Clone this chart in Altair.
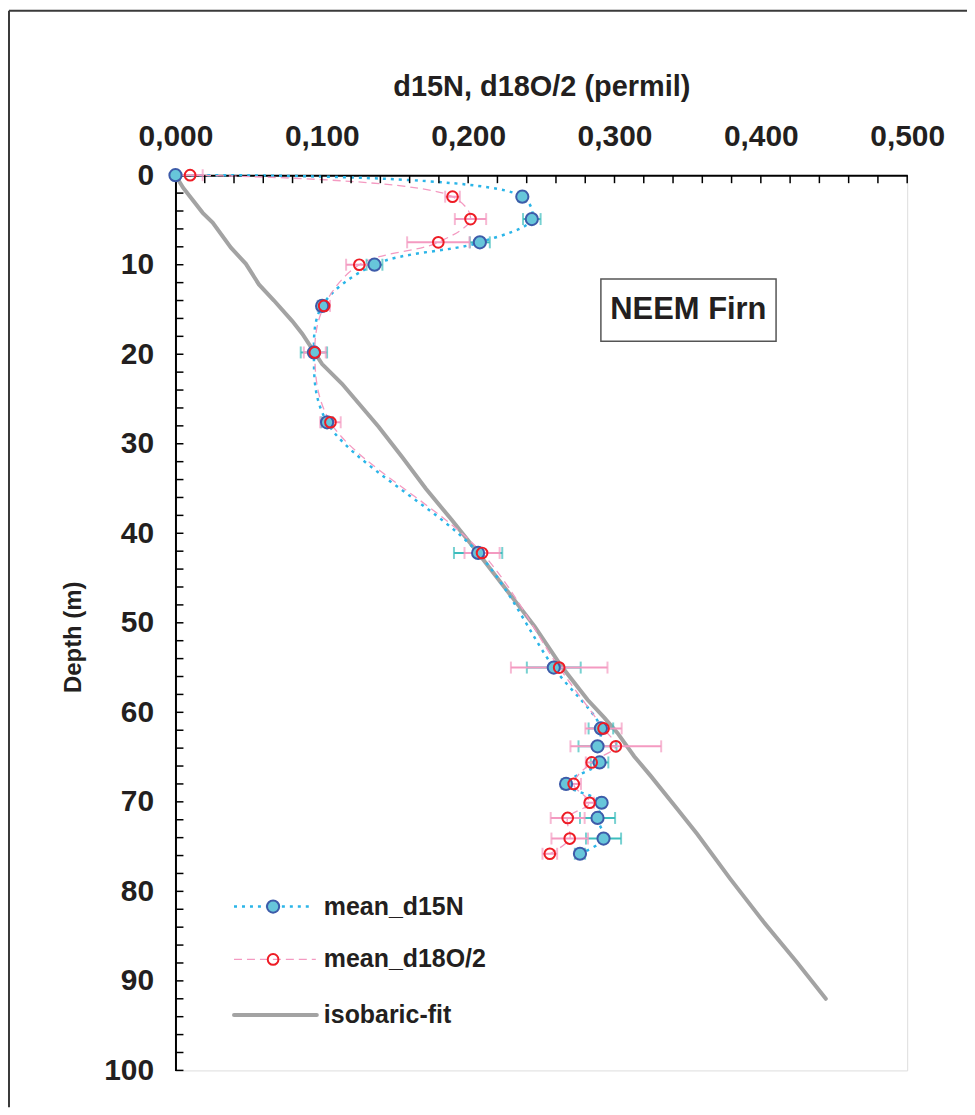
import altair as alt
import pandas as pd
import numpy as np

# ---------------- data ----------------
depth = [0.0, 2.4, 4.9, 7.5, 10.0, 14.6, 19.8, 27.6, 42.2, 55.0,
         61.8, 63.8, 65.6, 68.0, 70.1, 71.8, 74.1, 75.8]
d15n = [0.000, 0.237, 0.2435, 0.208, 0.136, 0.1002, 0.0946, 0.1036, 0.2068, 0.2585,
        0.2907, 0.2884, 0.2898, 0.2669, 0.2912, 0.2884, 0.2925, 0.2764]
d15n_err = [0.002, 0.0025, 0.006, 0.0068, 0.0054, 0.003, 0.009, 0.004, 0.0165, 0.0184,
            0.0084, 0.013, 0.006, 0.003, 0.002, 0.012, 0.012, 0.0035]
d18o = [0.010, 0.1893, 0.2016, 0.1796, 0.1256, 0.1016, 0.0952, 0.1059, 0.2095, 0.2622,
        0.2925, 0.3009, 0.2844, 0.2721, 0.2830, 0.2680, 0.2694, 0.2558]
d18o_err = [0.0086, 0.005, 0.0107, 0.0213, 0.009, 0.004, 0.0075, 0.007, 0.012, 0.033,
            0.0124, 0.031, 0.004, 0.005, 0.003, 0.0116, 0.0125, 0.005]

fit_depth = [0, 1.4, 2.3, 4.2, 5.3, 8.1, 9.9, 12.2, 14.0, 16.3, 17.7, 21.1, 23.3, 28.1,
             31.5, 35.0, 38.5, 42.2, 50.4, 54.8, 58.6, 60.6, 62.3, 64.9, 67.1, 70.8,
             73.6, 78.6, 83.4, 87.9, 92.0]
fit_x = [0, 0.0052, 0.0095, 0.0186, 0.0254, 0.0379, 0.0481, 0.057, 0.0673, 0.0798, 0.0866,
         0.1002, 0.1138, 0.1388, 0.155, 0.171, 0.1887, 0.2068, 0.2454, 0.2635, 0.2816,
         0.293, 0.302, 0.3134, 0.3247, 0.3429, 0.3565, 0.3791, 0.4018, 0.4245, 0.4444]

x_label_values = [0.0, 0.1, 0.2, 0.3, 0.4, 0.5]
y_label_values = [0, 10, 20, 30, 40, 50, 60, 70, 80, 90, 100]
x_minor_ticks = [round(v, 2) for v in np.arange(0.02, 0.501, 0.02)]
y_minor_ticks = list(range(2, 101, 2))

legend_labels = ["mean_d15N", "mean_d18O/2", "isobaric-fit"]
legend_depth = [81.7, 87.6, 93.8]
annotation_text = "NEEM Firn"

# ---------------- style ----------------
FONT = "Liberation Sans"
BLUE_FILL = "#67C6DA"
BLUE_EDGE = "#3D5BA9"
BLUE_LINE = "#2BB5E8"
TEAL = "#3DBDBD"
RED = "#EE1C25"
PINK = "#F49AC1"
GREY = "#A3A3A3"
TXT = "#231F20"

W, H = 734, 898
PAD = {"left": 168, "top": 166, "right": 60, "bottom": 37}

x_scale = alt.Scale(domain=[0, 0.5], nice=False, zero=False)
y_scale = alt.Scale(domain=[0, 100], reverse=True, nice=False, zero=False)

X_AX = alt.Axis(orient="top", values=x_label_values,
                labelExpr="replace(format(datum.value, '.3f'), '.', ',')",
                labelFont=FONT, labelFontSize=30, labelFontWeight="bold", labelColor=TXT,
                labelPadding=24, labelFlush=False, ticks=False, grid=False,
                domainColor="#000000", domainWidth=2,
                title="d15N, d18O/2 (permil)", titleFont=FONT, titleFontSize=29,
                titleFontWeight="bold", titleColor=TXT, titlePadding=20)
Y_AX = alt.Axis(orient="left", values=y_label_values, format="d",
                labelFont=FONT, labelFontSize=30, labelFontWeight="bold", labelColor=TXT,
                labelPadding=22, labelFlush=False, ticks=False, grid=False,
                domainColor="#000000", domainWidth=2,
                title="Depth (m)", titleFont=FONT, titleFontSize=24,
                titleFontWeight="bold", titleColor=TXT, titlePadding=18, titleY=463)


def X(field):
    return alt.X(field, type="quantitative", scale=x_scale, axis=X_AX)


def Y(field):
    return alt.Y(field, type="quantitative", scale=y_scale, axis=Y_AX)


# ---------------- tables ----------------
df15 = pd.DataFrame({"depth": depth, "x": d15n,
                     "lo": [v - e for v, e in zip(d15n, d15n_err)],
                     "hi": [v + e for v, e in zip(d15n, d15n_err)]})
df18 = pd.DataFrame({"depth": depth, "x": d18o,
                     "lo": [v - e for v, e in zip(d18o, d18o_err)],
                     "hi": [v + e for v, e in zip(d18o, d18o_err)]})
caps15 = pd.DataFrame({"depth": depth + depth, "x": list(df15["lo"]) + list(df15["hi"])})
caps18 = pd.DataFrame({"depth": depth + depth, "x": list(df18["lo"]) + list(df18["hi"])})
dffit = pd.DataFrame({"depth": fit_depth, "x": fit_x})
xt = pd.DataFrame({"t": x_minor_ticks})
yt = pd.DataFrame({"t": y_minor_ticks})
one = alt.Data(values=[{}])

# ---------------- layers ----------------
border_left = alt.Chart(one).mark_rule(color="#3a3a3a", strokeWidth=2).encode(
    x=alt.value(-167), y=alt.value(-165), y2=alt.value(H + PAD["bottom"]))
border_top = alt.Chart(one).mark_rule(color="#3a3a3a", strokeWidth=2).encode(
    x=alt.value(-167), x2=alt.value(W + PAD["right"]), y=alt.value(-165))

ticks_top = alt.Chart(xt).mark_rule(color="#000000", strokeWidth=1.5).encode(
    x=X("t"), y=alt.value(0), y2=alt.value(8))
ticks_left = alt.Chart(yt).mark_rule(color="#000000", strokeWidth=1.5).encode(
    y=Y("t"), x=alt.value(0), x2=alt.value(8))

fit_line = alt.Chart(dffit).mark_line(color=GREY, strokeWidth=4, strokeCap="round").encode(
    x=X("x"), y=Y("depth"), order="depth:Q")

line15 = alt.Chart(df15).mark_line(color=BLUE_LINE, strokeWidth=2.5, strokeDash=[3, 5],
                                   interpolate="catmull-rom").encode(
    x=X("x"), y=Y("depth"), order="depth:Q")
line18 = alt.Chart(df18).mark_line(color=PINK, strokeWidth=1.3, strokeDash=[8, 5],
                                   interpolate="catmull-rom").encode(
    x=X("x"), y=Y("depth"), order="depth:Q")

err15 = alt.Chart(df15).mark_rule(color=TEAL, strokeWidth=2).encode(
    x=X("lo"), x2="hi:Q", y=Y("depth"))
cap15 = alt.Chart(caps15).mark_tick(color=TEAL, orient="vertical", size=12, thickness=2).encode(
    x=X("x"), y=Y("depth"))
err18 = alt.Chart(df18).mark_rule(color=PINK, strokeWidth=2).encode(
    x=X("lo"), x2="hi:Q", y=Y("depth"))
cap18 = alt.Chart(caps18).mark_tick(color=PINK, orient="vertical", size=12, thickness=2).encode(
    x=X("x"), y=Y("depth"))

pts15 = alt.Chart(df15).mark_point(shape="circle", filled=True, size=150, fill=BLUE_FILL,
                                   stroke=BLUE_EDGE, strokeWidth=2, opacity=1).encode(
    x=X("x"), y=Y("depth"))
pts18 = alt.Chart(df18).mark_point(shape="circle", filled=False, size=115, color=RED,
                                   strokeWidth=2, opacity=1).encode(
    x=X("x"), y=Y("depth"))

# annotation box, positioned in data units
box_df = pd.DataFrame({"x0": [0.2907], "x1": [0.4104], "y0": [11.6], "y1": [18.56],
                       "xc": [0.3505], "yc": [15.1], "label": [annotation_text]})
box = alt.Chart(box_df).mark_rect(fill="white", stroke="#555555", strokeWidth=1.5).encode(
    x=X("x0"), x2="x1:Q", y=Y("y0"), y2="y1:Q")
box_text = alt.Chart(box_df).mark_text(font=FONT, fontSize=31, fontWeight="bold", color=TXT,
                                       align="center", baseline="middle").encode(
    x=X("xc"), y=Y("yc"), text="label:N")

# legend, positioned in data units
leg = pd.DataFrame({"label": legend_labels, "depth": legend_depth,
                    "x0": [0.040, 0.040, 0.040], "x1": [0.0912, 0.0959, 0.0966],
                    "xm": [0.0667, 0.0667, 0.0667], "xt": [0.1014, 0.1014, 0.1014]})
leg_line15 = alt.Chart(leg.iloc[[0]]).mark_rule(color=BLUE_LINE, strokeWidth=2.5,
                                               strokeDash=[3, 5]).encode(
    x=X("x0"), x2="x1:Q", y=Y("depth"))
leg_line18 = alt.Chart(leg.iloc[[1]]).mark_rule(color=PINK, strokeWidth=1.3,
                                               strokeDash=[8, 5]).encode(
    x=X("x0"), x2="x1:Q", y=Y("depth"))
leg_linefit = alt.Chart(leg.iloc[[2]]).mark_rule(color=GREY, strokeWidth=4,
                                                strokeCap="round").encode(
    x=X("x0"), x2="x1:Q", y=Y("depth"))
leg_pt15 = alt.Chart(leg.iloc[[0]]).mark_point(shape="circle", filled=True, size=150,
                                              fill=BLUE_FILL, stroke=BLUE_EDGE,
                                              strokeWidth=2, opacity=1).encode(
    x=X("xm"), y=Y("depth"))
leg_pt18 = alt.Chart(leg.iloc[[1]]).mark_point(shape="circle", filled=False, size=115,
                                              color=RED, strokeWidth=2, opacity=1).encode(
    x=X("xm"), y=Y("depth"))
leg_text = alt.Chart(leg).mark_text(font=FONT, fontSize=25, fontWeight="bold", color=TXT,
                                    align="left", baseline="middle").encode(
    x=X("xt"), y=Y("depth"), text="label:N")

chart = alt.layer(
    border_left, border_top, fit_line, line15, line18,
    err15, cap15, err18, cap18, pts15, pts18,
    ticks_top, ticks_left, box, box_text,
    leg_line15, leg_line18, leg_linefit, leg_pt15, leg_pt18, leg_text,
).properties(
    width=W, height=H, padding=PAD, autosize=alt.AutoSizeParams(type="none")
).configure_view(
    stroke="#9a9a9a", strokeWidth=2
).configure(font=FONT, background="white")

chart.save("out.html", embed_options={"renderer": "svg", "actions": False})
